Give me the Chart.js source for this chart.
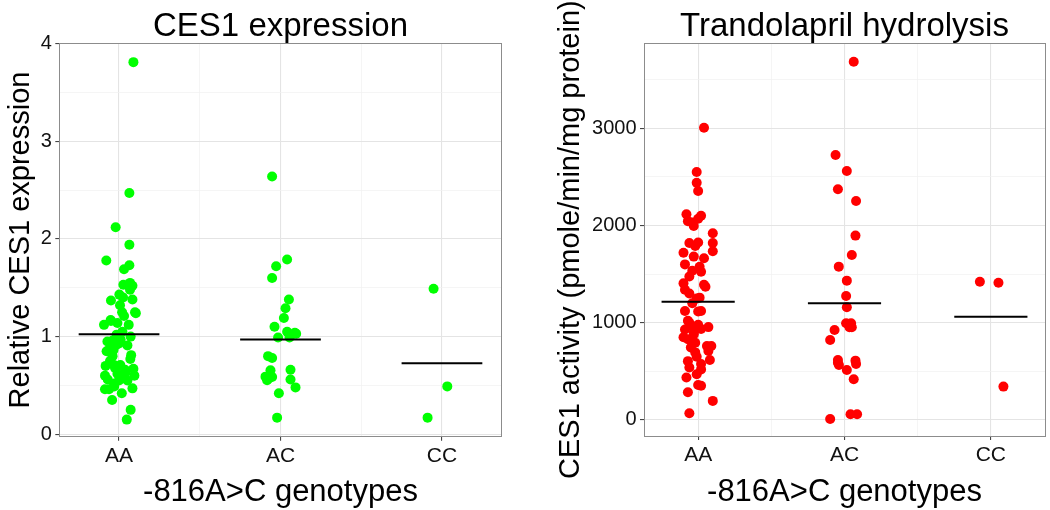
<!DOCTYPE html>
<html>
<head>
<meta charset="utf-8">
<script src="https://cdn.jsdelivr.net/npm/chart.js@4/dist/chart.umd.min.js"></script>
<style>
  html, body { margin: 0; padding: 0; background: #ffffff; }
  #wrap { position: relative; width: 1050px; height: 510px; background: #ffffff; }
  .panel { position: absolute; top: 0; }
  #p1 { left: 0; width: 520px; height: 510px; }
  #p2 { left: 520px; width: 530px; height: 510px; }
</style>
</head>
<body>
<div id="wrap">
  <div class="panel" id="p1"><canvas id="c1" width="520" height="510"></canvas></div>
  <div class="panel" id="p2"><canvas id="c2" width="530" height="510"></canvas></div>
</div>
<script>
// ---------- data ----------
const categories = ['AA', 'AC', 'CC'];

// Left panel: relative CES1 expression
const exprAA = [3.81, 2.47, 2.12, 1.94, 1.78, 1.73, 1.69, 1.55, 1.53, 1.52, 1.48, 1.37, 1.43, 1.40, 1.32, 1.38, 1.25, 1.25, 1.21, 1.12, 1.17, 1.14, 1.12, 1.05, 1.00, 0.95, 0.98, 0.91, 0.86, 0.85, 0.91, 0.81, 0.77, 0.75, 0.71, 0.70, 0.71, 0.68, 0.66, 0.67, 0.60, 0.56, 0.59, 0.55, 0.55, 0.60, 0.52, 0.46, 0.46, 0.47, 0.42, 0.35, 0.25, 0.15, 1.16, 1.24, 0.96, 0.97, 0.87, 0.93, 0.62, 0.49, 0.80, 0.63, 1.02];
const exprAAJitter = [0.089, 0.064, -0.021, 0.064, -0.079, 0.064, 0.031, 0.068, 0.027, 0.083, 0.068, -0.05, 0.002, 0.025, 0.006, 0.083, 0.099, 0.019, 0.031, -0.093, -0.052, -0.010, 0.060, 0.021, 0.072, -0.072, 0.000, -0.021, -0.035, -0.077, 0.052, 0.075, 0.070, -0.056, -0.031, -0.083, 0.008, -0.025, 0.037, 0.089, -0.087, -0.070, 0.021, 0.000, 0.052, 0.095, -0.031, -0.087, -0.062, 0.083, 0.017, -0.043, 0.072, 0.048, -0.050, 0.104, -0.040, 0.010, -0.060, 0.000, -0.010, -0.030, -0.040, 0.040, -0.015];
const exprAC = [2.64, 1.79, 1.72, 1.60, 1.38, 1.29, 1.19, 1.10, 1.05, 1.04, 1.01, 1.03, 0.99, 0.99, 0.80, 0.78, 0.655, 0.59, 0.57, 0.587, 0.553, 0.66, 0.56, 0.48, 0.42, 0.17];
const exprACJitter = [-0.052, 0.041, -0.027, -0.052, 0.052, 0.031, 0.021, -0.037, 0.041, 0.089, 0.062, 0.097, -0.015, 0.056, -0.077, -0.052, -0.062, -0.093, -0.073, -0.052, -0.083, 0.062, 0.062, 0.093, -0.010, -0.021];
const exprCC = [1.49, 0.49, 0.17];
const exprCCJitter = [-0.052, 0.033, -0.089];
const exprMeans = [1.024, 0.969, 0.727];
const exprTicks = [0, 1, 2, 3, 4];

// Right panel: trandolapril hydrolysis (pmole/min/mg protein)
const actAA = [3005, 2550, 2440, 2355, 2115, 2045, 2030, 2100, 2070, 1995, 1920, 1820, 1825, 1790, 1820, 1735, 1720, 1600, 1680, 1663, 1535, 1575, 1525, 1475, 1405, 1340, 1300, 1390, 1370, 1250, 1258, 1200, 1120, 1120, 1115, 1020, 970, 930, 900, 935, 955, 850, 830, 795, 760, 760, 710, 745, 695, 650, 605, 575, 617, 540, 470, 520, 436, 360, 352, 285, 196, 69, 1000, 980, 880];
const actAAJitter = [0.04, -0.01, -0.01, 0.00, -0.08, -0.07, -0.04, 0.02, 0.00, -0.03, 0.10, -0.06, 0.00, -0.02, 0.10, 0.10, -0.10, -0.09, -0.03, 0.04, -0.04, 0.01, 0.02, -0.06, -0.10, -0.09, -0.06, 0.04, 0.05, -0.01, 0.01, -0.04, -0.09, 0.02, 0.00, -0.07, -0.05, -0.09, -0.03, 0.02, 0.07, -0.10, -0.07, -0.02, 0.06, 0.09, 0.07, -0.05, -0.02, -0.01, -0.07, 0.02, 0.08, -0.06, -0.01, 0.02, -0.08, 0.00, 0.02, -0.07, 0.10, -0.06, -0.06, 0.00, -0.03];
const actAC = [3685, 2726, 2561, 2373, 2252, 1896, 1697, 1577, 1433, 1275, 1159, 994, 994, 953, 953, 926, 823, 617, 566, 589, 610, 575, 514, 418, 10, 58, 58];
const actACJitter = [0.063, -0.061, 0.016, -0.045, 0.079, 0.075, 0.050, -0.039, 0.016, 0.011, 0.016, 0.011, 0.045, 0.034, 0.050, -0.068, -0.098, -0.045, -0.038, -0.045, 0.075, 0.079, 0.016, 0.063, -0.098, 0.041, 0.086];
const actCC = [1422, 1412, 343];
const actCCJitter = [-0.075, 0.052, 0.086];
const actMeans = [1217, 1200, 1062];
const actTicks = [0, 1000, 2000, 3000];

// ---------- helpers ----------
const FONT = "'Liberation Sans', Arial, Helvetica, sans-serif";
const MEAN_HALF = 0.25;

function pts(values, jitter, catIndex) {
  return values.map((v, i) => ({ x: catIndex + 1 + jitter[i], y: v }));
}
function meanSeg(mean, catIndex) {
  return [{ x: catIndex + 1 - MEAN_HALF, y: mean }, { x: catIndex + 1 + MEAN_HALF, y: mean }];
}

const panelBorder = {
  id: 'panelBorder',
  afterDatasetsDraw(chart) {
    const { ctx, chartArea: a } = chart;
    ctx.save();
    ctx.strokeStyle = '#8c8c8c';
    ctx.lineWidth = 1;
    ctx.strokeRect(Math.round(a.left) + 0.5, Math.round(a.top) + 0.5,
      Math.round(a.right - a.left), Math.round(a.bottom - a.top));
    ctx.restore();
  }
};

function makePanel(canvasId, cfg) {
  const majorY = cfg.majorTicks;
  const step = majorY[1] - majorY[0];
  const yTickVals = [];
  for (let i = 0; i < majorY.length * 2; i++) {
    const v = majorY[0] + i * step / 2;
    if (v <= cfg.yMax + 1e-9) yTickVals.push(v);
  }
  const isMajorY = v => majorY.some(m => Math.abs(m - v) < 1e-9);
  const xTickVals = [1, 1.5, 2, 2.5, 3];
  const isMajorX = v => Math.abs(v - Math.round(v)) < 1e-9;

  const datasets = [];
  cfg.means.forEach((m, i) => {
    datasets.push({
      type: 'line', data: meanSeg(m, i), borderColor: '#000000', borderWidth: 2,
      pointRadius: 0, fill: false, showLine: true, order: 0
    });
  });
  cfg.groups.forEach((g, i) => {
    datasets.push({
      type: 'scatter', data: pts(g.values, g.jitter, i), backgroundColor: cfg.color,
      borderWidth: 0, pointRadius: 5, pointHoverRadius: 5, order: 1
    });
  });

  return new Chart(document.getElementById(canvasId), {
    type: 'scatter',
    data: { datasets },
    plugins: [panelBorder],
    options: {
      responsive: false,
      animation: false,
      events: [],
      layout: { padding: { left: 0, right: cfg.padRight, top: 0, bottom: 0 } },
      plugins: {
        legend: { display: false },
        tooltip: { enabled: false },
        title: {
          display: true, text: cfg.title, fullSize: false, color: '#000000',
          font: { family: FONT, size: 33, weight: 'normal', lineHeight: 1 },
          padding: { top: 10.3, bottom: 0 }
        }
      },
      scales: {
        x: {
          type: 'linear', min: 0.63, max: 3.37,
          afterBuildTicks: s => { s.ticks = xTickVals.map(v => ({ value: v })); },
          afterFit: s => { s.height = cfg.xAxisHeight; },
          ticks: {
            autoSkip: false, maxRotation: 0, minRotation: 0, padding: 3,
            color: '#111111', font: { family: FONT, size: 21 },
            callback: v => isMajorX(v) ? categories[Math.round(v) - 1] : ''
          },
          grid: {
            color: c => (c.tick && isMajorX(c.tick.value)) ? '#e4e4e4' : '#f1f1f1',
            lineWidth: c => (c.tick && isMajorX(c.tick.value)) ? 1.1 : 0.7,
            tickColor: c => (c.tick && isMajorX(c.tick.value)) ? '#444444' : 'rgba(0,0,0,0)',
            tickLength: 4, drawTicks: true
          },
          border: { display: false },
          title: {
            display: true, text: '-816A>C genotypes', color: '#000000',
            font: { family: FONT, size: 31, lineHeight: 1 }, padding: { top: 0, bottom: 2.5 }
          }
        },
        y: {
          type: 'linear', min: cfg.yMin, max: cfg.yMax,
          afterBuildTicks: s => { s.ticks = yTickVals.map(v => ({ value: v })); },
          afterFit: s => { s.width = cfg.yAxisWidth; },
          ticks: {
            autoSkip: false, padding: 3.5, color: '#111111', font: { family: FONT, size: 20 },
            callback: v => isMajorY(v) ? String(v) : ''
          },
          grid: {
            color: c => (c.tick && isMajorY(c.tick.value)) ? '#e4e4e4' : '#f1f1f1',
            lineWidth: c => (c.tick && isMajorY(c.tick.value)) ? 1.1 : 0.7,
            tickColor: c => (c.tick && isMajorY(c.tick.value)) ? '#444444' : 'rgba(0,0,0,0)',
            tickLength: 4, drawTicks: true
          },
          border: { display: false },
          title: {
            display: true, text: cfg.yTitle, color: '#000000',
            font: { family: FONT, size: 29, lineHeight: 1 }, padding: { top: cfg.yTitlePad, bottom: 0 }
          }
        }
      }
    }
  });
}

makePanel('c1', {
  title: 'CES1 expression',
  yTitle: 'Relative CES1 expression',
  color: '#00FF00',
  yMin: -0.025, yMax: 4.003,
  majorTicks: exprTicks,
  means: exprMeans,
  groups: [
    { values: exprAA, jitter: exprAAJitter },
    { values: exprAC, jitter: exprACJitter },
    { values: exprCC, jitter: exprCCJitter }
  ],
  padRight: 18.3, yAxisWidth: 59.3, xAxisHeight: 73.3, yTitlePad: 6.5
});

makePanel('c2', {
  title: 'Trandolapril hydrolysis',
  yTitle: 'CES1 activity (pmole/min/mg protein)',
  color: '#FF0000',
  yMin: -165, yMax: 3874,
  majorTicks: actTicks,
  means: actMeans,
  groups: [
    { values: actAA, jitter: actAAJitter },
    { values: actAC, jitter: actACJitter },
    { values: actCC, jitter: actCCJitter }
  ],
  padRight: 3, yAxisWidth: 124, xAxisHeight: 74, yTitlePad: 36
});
</script>
</body>
</html>
